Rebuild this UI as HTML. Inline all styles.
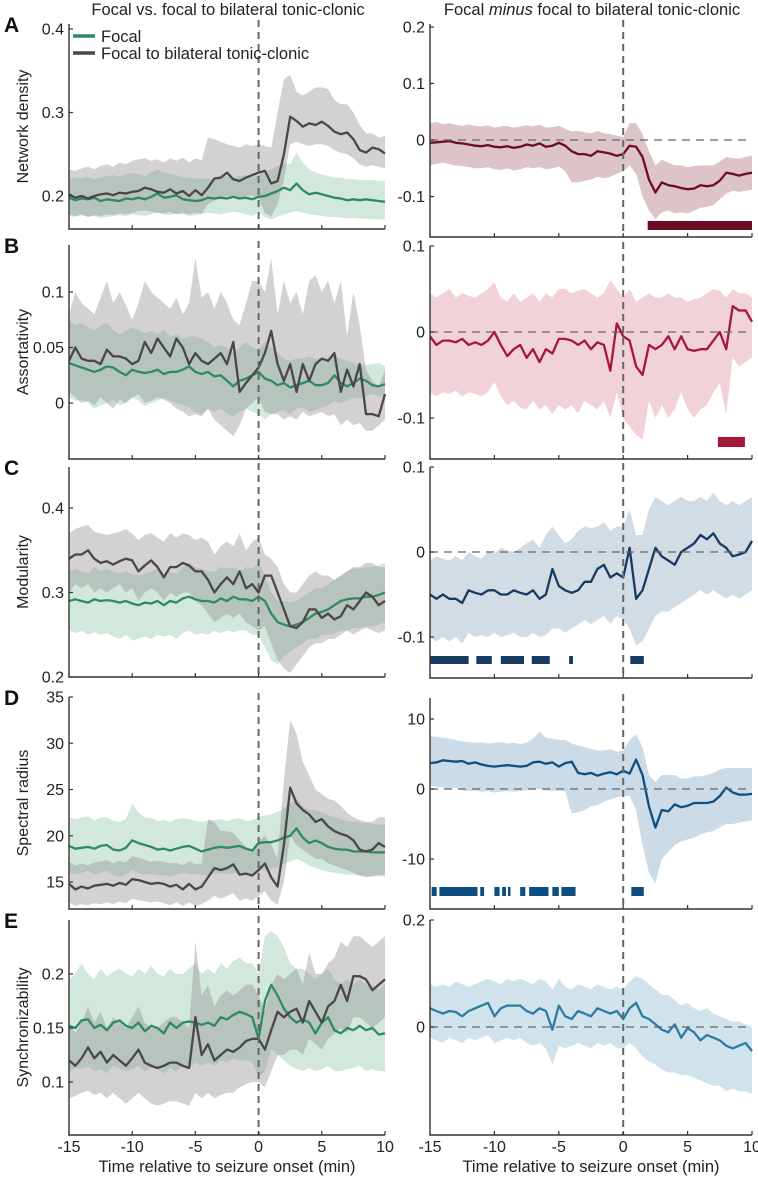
<!DOCTYPE html>
<html><head><meta charset="utf-8"><style>
html,body{margin:0;padding:0;background:#fff}
svg{display:block;font-family:"Liberation Sans",Arial,sans-serif}
</style></head><body>
<svg id="fig" width="758" height="1179" viewBox="0 0 758 1179" xmlns="http://www.w3.org/2000/svg">
<text x="228" y="15" font-size="16.5" text-anchor="middle" fill="#222">Focal vs. focal to bilateral tonic-clonic</text>
<text x="592" y="15" font-size="16.5" text-anchor="middle" fill="#222">Focal <tspan font-style="italic">minus</tspan> focal to bilateral tonic-clonic</text>
<g id="layer"></g>
</svg>
<script>
// ---- shared time axis ----
const times = Array.from({length:51},(_,i)=>-15+i*0.5);
const xTicks = [-15,-10,-5,0,5,10];
const xTickLabels = ["-15","-10","-5","0","5","10"];

// ---- Panel A: network density ----
const aFocal = [0.198,0.195,0.197,0.196,0.198,0.194,0.196,0.195,0.194,0.197,0.196,0.198,0.196,0.199,0.203,0.198,0.199,0.201,0.196,0.195,0.194,0.195,0.198,0.197,0.198,0.197,0.199,0.197,0.198,0.196,0.199,0.2,0.203,0.206,0.21,0.207,0.215,0.207,0.202,0.204,0.202,0.2,0.198,0.197,0.195,0.196,0.195,0.196,0.195,0.194,0.193];
const aFocalLo = [0.176,0.175,0.177,0.175,0.176,0.174,0.175,0.176,0.177,0.176,0.178,0.177,0.176,0.178,0.18,0.178,0.177,0.179,0.178,0.176,0.177,0.178,0.18,0.179,0.178,0.18,0.181,0.18,0.178,0.176,0.18,0.175,0.172,0.175,0.178,0.18,0.182,0.18,0.178,0.177,0.176,0.175,0.175,0.174,0.173,0.174,0.173,0.173,0.172,0.172,0.172];
const aFocalHi = [0.22,0.222,0.221,0.223,0.22,0.222,0.224,0.225,0.223,0.226,0.228,0.226,0.224,0.228,0.232,0.228,0.226,0.225,0.222,0.222,0.221,0.22,0.221,0.22,0.222,0.224,0.222,0.224,0.225,0.222,0.225,0.228,0.232,0.236,0.24,0.238,0.252,0.24,0.232,0.228,0.226,0.224,0.222,0.222,0.22,0.22,0.219,0.219,0.219,0.218,0.218];
const aFbtc = [0.202,0.198,0.2,0.197,0.2,0.202,0.203,0.201,0.204,0.203,0.205,0.206,0.21,0.208,0.205,0.204,0.208,0.203,0.206,0.2,0.207,0.201,0.21,0.221,0.222,0.228,0.22,0.218,0.222,0.225,0.228,0.23,0.215,0.218,0.25,0.295,0.29,0.283,0.287,0.285,0.289,0.284,0.277,0.274,0.276,0.268,0.255,0.252,0.258,0.256,0.251];
const aFbtcLo = [0.178,0.176,0.178,0.175,0.177,0.176,0.178,0.177,0.179,0.178,0.18,0.182,0.183,0.181,0.18,0.179,0.181,0.178,0.18,0.178,0.18,0.179,0.19,0.195,0.198,0.2,0.198,0.197,0.2,0.2,0.198,0.18,0.175,0.19,0.22,0.262,0.265,0.262,0.26,0.262,0.262,0.26,0.255,0.252,0.25,0.245,0.238,0.235,0.237,0.235,0.233];
const aFbtcHi = [0.232,0.23,0.233,0.235,0.232,0.236,0.238,0.235,0.24,0.238,0.242,0.244,0.245,0.242,0.244,0.24,0.245,0.242,0.246,0.24,0.245,0.243,0.27,0.268,0.265,0.262,0.26,0.258,0.262,0.26,0.262,0.26,0.258,0.3,0.34,0.345,0.325,0.32,0.325,0.33,0.33,0.328,0.315,0.31,0.31,0.3,0.285,0.275,0.275,0.27,0.272];
const aDiff = [-0.005,-0.004,-0.003,-0.002,-0.005,-0.006,-0.008,-0.01,-0.011,-0.009,-0.012,-0.013,-0.011,-0.014,-0.012,-0.008,-0.01,-0.006,-0.012,-0.01,-0.005,-0.01,-0.02,-0.025,-0.025,-0.028,-0.02,-0.022,-0.024,-0.028,-0.025,-0.01,-0.012,-0.03,-0.07,-0.093,-0.075,-0.08,-0.082,-0.085,-0.087,-0.086,-0.08,-0.082,-0.08,-0.072,-0.058,-0.06,-0.063,-0.06,-0.058];
const aDiffLo = [-0.045,-0.042,-0.04,-0.043,-0.045,-0.046,-0.048,-0.05,-0.05,-0.048,-0.052,-0.053,-0.05,-0.054,-0.052,-0.048,-0.05,-0.048,-0.052,-0.05,-0.047,-0.055,-0.075,-0.075,-0.072,-0.07,-0.065,-0.068,-0.065,-0.06,-0.055,-0.045,-0.06,-0.1,-0.125,-0.14,-0.128,-0.125,-0.13,-0.128,-0.13,-0.125,-0.12,-0.118,-0.115,-0.105,-0.095,-0.09,-0.092,-0.09,-0.088];
const aDiffHi = [0.03,0.032,0.028,0.03,0.027,0.025,0.028,0.025,0.024,0.026,0.022,0.024,0.025,0.022,0.024,0.026,0.024,0.027,0.022,0.023,0.025,0.02,0.015,0.016,0.014,0.012,0.016,0.012,0.01,0.008,0.005,0.03,0.03,0.01,-0.02,-0.045,-0.035,-0.04,-0.045,-0.045,-0.048,-0.046,-0.045,-0.045,-0.045,-0.038,-0.03,-0.032,-0.033,-0.03,-0.028];
const aSig = [[1.9,10]];

// ---- Panel B: assortativity ----
const bFocal = [0.036,0.034,0.032,0.03,0.028,0.03,0.033,0.032,0.028,0.025,0.03,0.028,0.027,0.028,0.03,0.026,0.028,0.028,0.03,0.033,0.028,0.026,0.028,0.024,0.025,0.02,0.015,0.02,0.022,0.025,0.028,0.022,0.02,0.016,0.018,0.014,0.016,0.018,0.02,0.016,0.016,0.018,0.025,0.018,0.015,0.018,0.022,0.02,0.016,0.015,0.017];
const bFocalLo = [0.005,0.002,0.003,0,-0.005,-0.002,0,0.003,-0.002,0,0.005,0.002,-0.003,0,0.002,0.005,0.002,0,-0.002,-0.004,-0.008,-0.01,-0.005,-0.008,-0.005,-0.01,-0.012,-0.008,-0.005,-0.008,-0.01,-0.015,-0.01,-0.008,-0.006,-0.01,-0.005,-0.004,-0.008,-0.006,-0.004,-0.002,0.002,0,0.002,0.005,0.004,0.006,0.008,0.006,0.005];
const bFocalHi = [0.075,0.07,0.072,0.068,0.065,0.07,0.072,0.066,0.062,0.065,0.068,0.066,0.063,0.065,0.062,0.066,0.06,0.062,0.058,0.06,0.06,0.058,0.055,0.05,0.052,0.05,0.045,0.05,0.055,0.05,0.048,0.055,0.05,0.045,0.04,0.038,0.04,0.04,0.042,0.04,0.04,0.04,0.042,0.04,0.038,0.036,0.035,0.034,0.035,0.036,0.033];
const bFbtc = [0.038,0.05,0.04,0.038,0.038,0.035,0.048,0.042,0.042,0.04,0.035,0.038,0.055,0.045,0.058,0.05,0.042,0.058,0.05,0.035,0.045,0.038,0.035,0.04,0.045,0.035,0.055,0.01,0.018,0.025,0.032,0.045,0.065,0.035,0.02,0.035,0.01,0.035,0.02,0.035,0.04,0.038,0.045,0.01,0.03,0.015,0.035,-0.01,-0.01,-0.012,0.008];
const bFbtcLo = [0.01,0.005,0,0.002,-0.002,0.005,0,-0.005,0.003,0,0.005,0.008,0,0.002,0.005,0.003,0,-0.005,-0.008,-0.012,-0.01,-0.012,-0.005,-0.015,-0.02,-0.025,-0.03,-0.02,-0.005,0,0.005,-0.008,-0.01,-0.01,-0.015,-0.012,-0.015,-0.008,-0.012,-0.01,-0.008,-0.012,-0.01,-0.02,-0.015,-0.02,-0.018,-0.025,-0.025,-0.02,-0.015];
const bFbtcHi = [0.08,0.1,0.09,0.085,0.08,0.095,0.11,0.09,0.1,0.088,0.075,0.09,0.11,0.1,0.095,0.09,0.085,0.095,0.08,0.09,0.13,0.095,0.1,0.085,0.1,0.09,0.075,0.07,0.09,0.11,0.11,0.1,0.13,0.08,0.11,0.09,0.1,0.08,0.11,0.115,0.1,0.11,0.09,0.11,0.06,0.1,0.07,0.03,0.02,0.015,0.03];
const bDiff = [-0.005,-0.015,-0.01,-0.01,-0.012,-0.008,-0.015,-0.012,-0.015,-0.01,0.0,-0.015,-0.028,-0.02,-0.015,-0.03,-0.02,-0.035,-0.02,-0.025,-0.008,-0.008,-0.01,-0.015,-0.01,-0.02,-0.012,-0.015,-0.045,0.01,-0.005,-0.01,-0.04,-0.05,-0.015,-0.02,-0.015,-0.005,-0.02,-0.005,-0.02,-0.022,-0.02,-0.02,-0.01,0.0,-0.02,0.03,0.025,0.025,0.012];
const bDiffLo = [-0.07,-0.075,-0.07,-0.072,-0.068,-0.075,-0.07,-0.072,-0.075,-0.07,-0.058,-0.075,-0.085,-0.08,-0.088,-0.09,-0.08,-0.09,-0.085,-0.095,-0.085,-0.09,-0.085,-0.095,-0.08,-0.085,-0.09,-0.08,-0.1,-0.07,-0.1,-0.11,-0.12,-0.125,-0.08,-0.1,-0.085,-0.1,-0.09,-0.07,-0.09,-0.1,-0.09,-0.085,-0.07,-0.06,-0.095,-0.03,-0.04,-0.035,-0.03];
const bDiffHi = [0.045,0.04,0.045,0.05,0.04,0.045,0.042,0.04,0.045,0.05,0.058,0.04,0.035,0.045,0.035,0.04,0.045,0.035,0.045,0.04,0.05,0.05,0.045,0.048,0.05,0.045,0.04,0.045,0.06,0.05,0.04,0.05,0.035,0.04,0.045,0.04,0.04,0.045,0.04,0.04,0.035,0.038,0.04,0.045,0.05,0.048,0.04,0.05,0.045,0.045,0.04];
const bSig = [[7.35,9.45]];

// ---- Panel C: modularity ----
const cFocal = [0.29,0.292,0.29,0.288,0.292,0.29,0.291,0.29,0.288,0.29,0.287,0.285,0.288,0.287,0.29,0.285,0.29,0.288,0.293,0.295,0.292,0.29,0.29,0.288,0.293,0.29,0.295,0.292,0.292,0.29,0.295,0.29,0.275,0.265,0.262,0.26,0.262,0.265,0.27,0.275,0.277,0.28,0.285,0.29,0.292,0.293,0.293,0.295,0.295,0.297,0.3];
const cFocalLo = [0.255,0.252,0.255,0.25,0.253,0.25,0.252,0.248,0.245,0.25,0.243,0.245,0.248,0.245,0.25,0.248,0.25,0.245,0.252,0.255,0.25,0.252,0.25,0.255,0.252,0.255,0.253,0.255,0.255,0.25,0.25,0.235,0.22,0.215,0.225,0.23,0.235,0.24,0.245,0.245,0.25,0.25,0.252,0.255,0.255,0.258,0.258,0.26,0.26,0.262,0.265];
const cFocalHi = [0.325,0.328,0.325,0.322,0.33,0.325,0.328,0.325,0.322,0.325,0.322,0.32,0.322,0.325,0.328,0.322,0.325,0.322,0.33,0.335,0.33,0.328,0.325,0.325,0.33,0.328,0.33,0.325,0.33,0.328,0.335,0.32,0.3,0.29,0.29,0.288,0.29,0.295,0.3,0.305,0.305,0.31,0.315,0.32,0.325,0.328,0.328,0.33,0.33,0.332,0.335];
const cFbtc = [0.34,0.345,0.345,0.35,0.34,0.335,0.337,0.333,0.337,0.34,0.338,0.325,0.332,0.338,0.33,0.318,0.33,0.33,0.335,0.332,0.325,0.325,0.315,0.3,0.31,0.318,0.31,0.325,0.305,0.31,0.3,0.32,0.32,0.3,0.28,0.26,0.258,0.265,0.28,0.28,0.27,0.275,0.268,0.272,0.285,0.28,0.29,0.3,0.295,0.285,0.29];
const cFbtcLo = [0.3,0.31,0.305,0.31,0.3,0.305,0.3,0.305,0.31,0.3,0.305,0.29,0.3,0.305,0.3,0.29,0.3,0.295,0.3,0.3,0.29,0.285,0.275,0.265,0.27,0.275,0.27,0.275,0.265,0.26,0.255,0.26,0.24,0.22,0.21,0.205,0.215,0.225,0.235,0.24,0.24,0.245,0.245,0.25,0.255,0.25,0.255,0.258,0.255,0.252,0.255];
const cFbtcHi = [0.37,0.375,0.378,0.38,0.372,0.37,0.368,0.37,0.372,0.375,0.37,0.362,0.368,0.37,0.365,0.36,0.37,0.365,0.37,0.368,0.362,0.365,0.36,0.345,0.355,0.36,0.355,0.37,0.35,0.36,0.365,0.345,0.34,0.33,0.31,0.3,0.3,0.31,0.32,0.325,0.32,0.32,0.315,0.32,0.325,0.33,0.33,0.335,0.335,0.33,0.33];
const cDiff = [-0.05,-0.055,-0.05,-0.055,-0.055,-0.06,-0.045,-0.048,-0.05,-0.045,-0.045,-0.05,-0.05,-0.045,-0.048,-0.05,-0.045,-0.055,-0.05,-0.02,-0.04,-0.045,-0.048,-0.045,-0.035,-0.035,-0.02,-0.015,-0.03,-0.025,-0.03,0.005,-0.055,-0.045,-0.02,0.005,-0.005,-0.01,-0.015,0.0,0.005,0.01,0.02,0.015,0.022,0.01,0.005,-0.005,-0.003,0.0,0.013];
const cDiffLo = [-0.1,-0.105,-0.1,-0.105,-0.1,-0.108,-0.095,-0.1,-0.098,-0.1,-0.095,-0.1,-0.098,-0.095,-0.1,-0.1,-0.095,-0.1,-0.098,-0.09,-0.09,-0.095,-0.09,-0.085,-0.08,-0.085,-0.08,-0.075,-0.085,-0.075,-0.08,-0.09,-0.11,-0.105,-0.09,-0.075,-0.07,-0.07,-0.065,-0.06,-0.055,-0.05,-0.045,-0.05,-0.045,-0.05,-0.055,-0.05,-0.055,-0.05,-0.045];
const cDiffHi = [-0.01,-0.005,-0.008,-0.01,-0.005,-0.01,0,-0.005,-0.008,0,-0.002,0.005,0.002,0.0,0.005,0.01,0.015,0.005,0.02,0.03,0.02,0.01,0.015,0.025,0.03,0.028,0.03,0.035,0.025,0.03,0.03,0.05,0.02,0.02,0.05,0.065,0.06,0.055,0.06,0.065,0.06,0.06,0.065,0.06,0.07,0.06,0.055,0.06,0.055,0.06,0.065];
const cSig = [[-15,-12.0],[-11.4,-10.2],[-9.5,-7.7],[-7.1,-5.7],[-4.2,-3.9],[0.55,1.6]];

// ---- Panel D: spectral radius ----
const dFocal = [18.9,18.6,18.7,18.8,18.6,18.9,19,18.5,18.4,18.7,19.5,19.2,19,18.8,18.5,18.6,18.4,18.6,18.8,18.9,18.6,18.3,18.5,18.7,18.8,18.7,18.8,18.9,18.6,18.4,19.2,19.3,19.3,19.5,19.8,20,20.8,19.8,19.2,19.5,19.2,18.8,18.6,18.5,18.5,18.3,18.3,18.3,18.2,18.2,18.2];
const dFocalLo = [16,15.8,16,16.2,15.8,16,16.2,15.8,15.5,15.8,16.3,16,15.8,15.9,15.7,15.8,15.6,15.8,16,15.8,15.9,15.8,15.7,15.9,16,15.8,16,15.9,15.8,15.6,16.2,16.3,16.5,16.6,17,17.2,17.5,17.2,16.8,16.5,16.3,16.1,16,15.9,15.8,15.8,15.7,15.7,15.6,15.6,15.6];
const dFocalHi = [22,21.8,22,22.1,21.7,22,22,21.6,21.5,21.8,23.5,22.5,22,21.9,21.6,21.7,21.5,21.8,21.9,21.8,21.6,21.5,21.6,21.7,21.8,21.6,21.8,21.9,21.6,21.7,22,22.2,22.3,22.6,23,23.5,24,23.2,22.8,22.8,22.5,22.2,22,21.8,21.6,21.5,21.4,21.4,21.3,21.2,21.2];
const dFbtc = [14.8,14.2,14.5,14.3,14.6,14.7,14.8,14.6,14.9,14.7,15.3,15.2,15,14.8,14.9,14.8,14.5,14.7,14.2,14.8,14.2,14.5,15.5,16.5,16.3,16.5,16.9,15.8,15.9,15.7,16.3,17,15.5,14.5,19,25.2,23.5,22.8,22.3,21.5,21.8,21,20.5,20.2,20,19.5,18.5,18.3,18.5,19.2,18.8];
const dFbtcLo = [12.8,12.4,12.6,12.5,12.7,12.6,12.8,12.6,12.9,12.7,13.2,13,12.9,12.8,12.9,12.7,12.5,12.8,12.4,12.8,12.4,12.6,13,13.5,13.2,13.5,13.8,13,13.2,13,13.5,14,13,12.5,15,20,19,18.5,18,17.5,17.5,17,16.8,16.5,16.3,16,15.7,15.5,15.6,15.8,15.7];
const dFbtcHi = [17.2,16.8,17,16.8,17.1,17.2,17.4,17,17.3,17.1,17.8,17.6,17.4,17.2,17.3,17.2,17,17.1,16.8,17.2,16.9,17,21.8,21.5,20.5,20.5,20.3,19.5,18.8,18.5,19.5,20,19,17.5,26,32.5,31,28,26.5,25,24.5,24,23.8,23.2,22.5,22,21.7,21.5,21.5,22,22];
const dDiff = [3.7,3.8,4.1,4,3.9,4,3.6,3.8,3.5,3.3,3.2,3.3,3.4,3.3,3.2,3.3,3.8,3.9,3.6,3.8,3.2,3.7,3.9,2.3,2.1,2.3,1.9,2.2,2.4,2.1,2.6,2.2,4.2,2,-2.5,-5.5,-3,-3.2,-2.2,-2.6,-2.4,-2,-2,-2,-1.8,-1,0.2,-0.5,-0.8,-0.8,-0.7];
const dDiffLo = [0.5,0.3,0.2,0,0.2,-0.2,-0.3,-0.2,-0.4,-0.3,-0.5,-0.4,-0.3,-0.4,-0.3,-0.2,0,0,-0.2,-0.3,-0.2,-0.3,-3.5,-3.3,-3,-2.5,-2.3,-1.8,-1.5,-1.2,-1,-1,-3,-8,-12,-13.5,-10,-9,-8,-7.5,-7.2,-7,-6.5,-6.2,-6,-5.5,-5,-5,-4.8,-4.6,-4.5];
const dDiffHi = [7.5,7.5,7.3,7.2,7,6.8,6.7,6.6,6.7,6.5,6.6,6.7,6.5,6.6,6.4,6.6,7.2,8.2,7.3,7.2,7,7,6.5,6.2,6,5.7,5.5,5.5,5.7,5.3,5.5,7,7.8,6,2,1,2,2,2,1.5,1.5,1.8,1.8,2,2.3,2.8,3,3,3,3,3];
const dSig = [[-14.87,-14.48],[-14.27,-11.31],[-11.1,-10.8],[-10.0,-9.6],[-9.4,-9.1],[-8.95,-8.75],[-8.0,-7.6],[-7.3,-5.8],[-5.5,-5.0],[-4.8,-3.7],[0.63,1.6]];

// ---- Panel E: synchronizability ----
const eFocal = [0.152,0.15,0.157,0.158,0.15,0.153,0.148,0.155,0.157,0.152,0.15,0.155,0.147,0.152,0.15,0.145,0.155,0.15,0.155,0.156,0.155,0.153,0.155,0.152,0.16,0.158,0.162,0.165,0.163,0.16,0.14,0.175,0.19,0.18,0.168,0.16,0.155,0.158,0.155,0.145,0.155,0.16,0.148,0.145,0.15,0.148,0.152,0.148,0.15,0.144,0.145];
const eFocalLo = [0.11,0.113,0.112,0.115,0.11,0.112,0.108,0.115,0.113,0.11,0.112,0.115,0.11,0.113,0.112,0.108,0.113,0.11,0.115,0.113,0.118,0.115,0.118,0.115,0.12,0.118,0.122,0.12,0.12,0.118,0.105,0.11,0.13,0.125,0.12,0.115,0.112,0.11,0.113,0.11,0.112,0.115,0.11,0.11,0.112,0.113,0.115,0.11,0.112,0.11,0.11];
const eFocalHi = [0.195,0.2,0.21,0.2,0.195,0.205,0.198,0.202,0.205,0.2,0.198,0.205,0.2,0.208,0.2,0.198,0.205,0.2,0.2,0.205,0.21,0.2,0.205,0.2,0.21,0.205,0.212,0.215,0.21,0.21,0.2,0.235,0.24,0.235,0.225,0.21,0.205,0.205,0.2,0.195,0.2,0.205,0.195,0.19,0.195,0.19,0.195,0.19,0.19,0.185,0.19];
const eFbtc = [0.12,0.115,0.122,0.132,0.122,0.128,0.118,0.125,0.12,0.115,0.122,0.13,0.118,0.115,0.113,0.115,0.118,0.118,0.115,0.113,0.16,0.125,0.135,0.12,0.125,0.13,0.128,0.132,0.138,0.14,0.14,0.13,0.148,0.165,0.16,0.165,0.168,0.155,0.175,0.165,0.155,0.17,0.175,0.19,0.175,0.198,0.198,0.195,0.185,0.19,0.195];
const eFbtcLo = [0.085,0.087,0.09,0.092,0.088,0.09,0.085,0.09,0.085,0.08,0.085,0.09,0.085,0.08,0.078,0.08,0.082,0.082,0.08,0.078,0.09,0.085,0.09,0.085,0.088,0.09,0.09,0.095,0.098,0.1,0.1,0.095,0.11,0.125,0.125,0.13,0.13,0.125,0.14,0.135,0.13,0.14,0.145,0.15,0.145,0.16,0.16,0.155,0.15,0.155,0.16];
const eFbtcHi = [0.155,0.145,0.155,0.17,0.155,0.165,0.15,0.16,0.155,0.15,0.16,0.17,0.155,0.15,0.15,0.155,0.16,0.16,0.155,0.15,0.23,0.18,0.19,0.17,0.18,0.185,0.18,0.185,0.19,0.19,0.18,0.165,0.19,0.2,0.195,0.2,0.205,0.19,0.22,0.2,0.2,0.21,0.215,0.23,0.225,0.235,0.235,0.23,0.225,0.23,0.235];
const eDiff = [0.035,0.03,0.025,0.03,0.028,0.02,0.03,0.035,0.04,0.045,0.02,0.035,0.04,0.04,0.04,0.03,0.025,0.035,0.03,-0.005,0.04,0.02,0.015,0.03,0.025,0.02,0.035,0.03,0.025,0.03,0.015,0.035,0.045,0.02,0.015,0.005,-0.005,-0.01,0.005,-0.02,-0.002,-0.01,-0.025,-0.015,-0.02,-0.025,-0.035,-0.04,-0.035,-0.03,-0.045];
const eDiffLo = [-0.02,-0.025,-0.03,-0.02,-0.025,-0.03,-0.02,-0.025,-0.02,-0.015,-0.03,-0.025,-0.02,-0.025,-0.02,-0.03,-0.035,-0.03,-0.04,-0.07,-0.035,-0.04,-0.035,-0.03,-0.035,-0.04,-0.03,-0.035,-0.03,-0.04,-0.04,-0.03,-0.04,-0.055,-0.065,-0.07,-0.08,-0.085,-0.085,-0.09,-0.09,-0.095,-0.1,-0.105,-0.11,-0.11,-0.12,-0.115,-0.12,-0.12,-0.125];
const eDiffHi = [0.08,0.075,0.08,0.075,0.085,0.08,0.075,0.08,0.085,0.09,0.085,0.08,0.09,0.085,0.09,0.085,0.08,0.09,0.085,0.07,0.09,0.075,0.07,0.08,0.075,0.07,0.08,0.075,0.07,0.075,0.07,0.085,0.095,0.09,0.08,0.07,0.06,0.06,0.05,0.04,0.045,0.035,0.03,0.035,0.025,0.02,0.015,0.01,0.01,0.005,0.0];

const yTicksL = [[0.2,0.3,0.4],[0,0.05,0.1],[0.2,0.3,0.4],[15,20,25,30,35],[0.1,0.15,0.2]];
const yTickLabelsL = [["0.2","0.3","0.4"],["0","0.05","0.1"],["0.2","0.3","0.4"],["15","20","25","30","35"],["0.1","0.15","0.2"]];
const yTicksR = [[-0.1,0,0.1,0.2],[-0.1,0,0.1],[-0.1,0,0.1],[-10,0,10],[0,0.2]];
const yTickLabelsR = [["-0.1","0","0.1","0.2"],["-0.1","0","0.1"],["-0.1","0","0.1"],["-10","0","10"],["0","0.2"]];
const rowLabels = ["A","B","C","D","E"];
const yTitles = ["Network density","Assortativity","Modularity","Spectral radius","Synchronizability"];

// layout (pixel geometry, not data)
const LX=[69,385], RX=[430,752];
const Lgeo=[{t:24,b:229,c:[0.2,196,0.4,29]},{t:245,b:459,c:[0,403,0.1,292]},{t:467,b:677,c:[0.2,677,0.4,508]},{t:697,b:909,c:[15,882,35,697]},{t:920,b:1135,c:[0.1,1082,0.2,974]}];
const Rgeo=[{t:24,b:237,c:[0,140,0.2,27]},{t:246,b:459,c:[0,332,0.1,246]},{t:467,b:678,c:[0,552,0.1,467]},{t:698,b:909,c:[0,789,10,719]},{t:920,b:1135,c:[0,1027,0.2,920]}];
const sigRows=[[221,230],[437,447],[656,664],[887,896],null];
const leftSeries=[[aFocal,aFocalLo,aFocalHi,aFbtc,aFbtcLo,aFbtcHi],[bFocal,bFocalLo,bFocalHi,bFbtc,bFbtcLo,bFbtcHi],[cFocal,cFocalLo,cFocalHi,cFbtc,cFbtcLo,cFbtcHi],[dFocal,dFocalLo,dFocalHi,dFbtc,dFbtcLo,dFbtcHi],[eFocal,eFocalLo,eFocalHi,eFbtc,eFbtcLo,eFbtcHi]];
const rightSeries=[[aDiff,aDiffLo,aDiffHi],[bDiff,bDiffLo,bDiffHi],[cDiff,cDiffLo,cDiffHi],[dDiff,dDiffLo,dDiffHi],[eDiff,eDiffLo,eDiffHi]];
const sigs=[aSig,bSig,cSig,dSig,null];
const rColors=[{l:"#6d0c24",f:"#dcc4c9"},{l:"#a6173a",f:"#f1d2d8"},{l:"#173a63",f:"#d2dce5"},{l:"#0d4f82",f:"#cbdbe8"},{l:"#2a7d9f",f:"#d0e3ec"}];

const NS="http://www.w3.org/2000/svg";
const layer=document.getElementById('layer');
function mk(tag,attrs,parent){const e=document.createElementNS(NS,tag);for(const k in attrs)e.setAttribute(k,attrs[k]);(parent||layer).appendChild(e);return e;}
function xs(X){return t=>X[0]+(t+15)/25*(X[1]-X[0]);}
function ys(g){const [v1,y1,v2,y2]=g.c;return v=>y1+(v-v1)*(y2-y1)/(v2-v1);}
function linePath(x,y,arr){return arr.map((v,i)=>(i?'L':'M')+x(times[i]).toFixed(1)+','+y(v).toFixed(1)).join('');}
function bandPath(x,y,lo,hi){let d=hi.map((v,i)=>(i?'L':'M')+x(times[i]).toFixed(1)+','+y(v).toFixed(1)).join('');for(let i=lo.length-1;i>=0;i--)d+='L'+x(times[i]).toFixed(1)+','+y(lo[i]).toFixed(1);return d+'Z';}

function axes(g,X,geo,ticks,labels,side,showX){
  const x=xs(X), y=ys(geo);
  mk('path',{d:`M${X[0]},${geo.t}L${X[0]},${geo.b}L${X[1]},${geo.b}`,fill:'none',stroke:'#333','stroke-width':1.4},g);
  ticks.forEach((v,i)=>{const yy=y(v);
    const tk=mk('line',{x1:X[0],x2:X[0]+4,y1:yy,y2:yy,stroke:'#333','stroke-width':1.2},g);
    
    
    const tx=mk('text',{x:X[0]-5,y:yy+5.5,'font-size':16,'text-anchor':'end',fill:'#222'},g);
    tx.textContent=labels[i];
    
    
  });
  xTicks.forEach((t,i)=>{const xx=x(t);
    const tk=mk('line',{x1:xx,x2:xx,y1:geo.b,y2:geo.b-4,stroke:'#333','stroke-width':1.2},g);
    
    
    if(showX){const tx=mk('text',{x:xx,y:1152,'font-size':16,'text-anchor':'middle',fill:'#222'},g);
      tx.textContent=xTickLabels[i];
      
      }
  });
}

for(let r=0;r<5;r++){
  const gl=mk('g',{});
  
  
  const geo=Lgeo[r], x=xs(LX), y=ys(geo);
  const [fm,flo,fhi,gm,glo,ghi]=leftSeries[r];
  const cp=mk('clipPath',{id:'cl'+r},gl); mk('rect',{x:LX[0],y:geo.t,width:LX[1]-LX[0]+1,height:geo.b-geo.t},cp);
  const inner=mk('g',{'clip-path':'url(#cl'+r+')'},gl);
  const b1=mk('path',{d:bandPath(x,y,flo,fhi),fill:'#d2e8dd'},inner);
  
  
  const b2=mk('path',{d:bandPath(x,y,glo,ghi),fill:'#8c8789','fill-opacity':0.38},inner);
  
  
  const vl=mk('line',{x1:x(0),x2:x(0),y1:geo.t-4,y2:geo.b,stroke:'#666','stroke-width':2,'stroke-dasharray':'7,5'},gl);
  
  
  const l1=mk('path',{d:linePath(x,y,fm),fill:'none',stroke:'#2f8a62','stroke-width':2.3,'stroke-linejoin':'round'},inner);
  
  
  const l2=mk('path',{d:linePath(x,y,gm),fill:'none',stroke:'#4b4648','stroke-width':2.3,'stroke-linejoin':'round'},inner);
  
  
  axes(gl,LX,geo,yTicksL[r],yTickLabelsL[r],'L',r===4);
  const lt=mk('text',{x:4,y:geo.t+8,'font-size':21,'font-weight':'bold',fill:'#111'},gl);
  lt.textContent=rowLabels[r];
  
  
  const cy=(geo.t+geo.b)/2;
  const yt=mk('text',{x:0,y:0,transform:`translate(28,${cy}) rotate(-90)`,'font-size':16,'text-anchor':'middle',fill:'#222'},gl);
  yt.textContent=yTitles[r];
  
  

  const gr=mk('g',{});
  
  
  const rg=Rgeo[r], rx=xs(RX), ry=ys(rg);
  const [dm,dlo,dhi]=rightSeries[r];
  const cp2=mk('clipPath',{id:'cr'+r},gr); mk('rect',{x:RX[0],y:rg.t,width:RX[1]-RX[0]+1,height:rg.b-rg.t},cp2);
  const inner2=mk('g',{'clip-path':'url(#cr'+r+')'},gr);
  const rb=mk('path',{d:bandPath(rx,ry,dlo,dhi),fill:rColors[r].f},inner2);
  
  
  const zl=mk('line',{x1:RX[0],x2:RX[1],y1:ry(0),y2:ry(0),stroke:'#666','stroke-width':1.3,'stroke-dasharray':'8,6'},gr);
  
  
  const vr=mk('line',{x1:rx(0),x2:rx(0),y1:rg.t-4,y2:rg.b,stroke:'#666','stroke-width':2,'stroke-dasharray':'7,5'},gr);
  
  
  const rl=mk('path',{d:linePath(rx,ry,dm),fill:'none',stroke:rColors[r].l,'stroke-width':2.3,'stroke-linejoin':'round'},inner2);
  
  
  if(sigs[r]){sigs[r].forEach(s=>{
    const sb=mk('rect',{x:rx(s[0]),y:sigRows[r][0],width:rx(s[1])-rx(s[0]),height:sigRows[r][1]-sigRows[r][0],fill:rColors[r].l},gr);
    
    
  });}
  axes(gr,RX,rg,yTicksR[r],yTickLabelsR[r],'R',r===4);
}
[[227],[591]].forEach((p,i)=>{
  const t=mk('text',{x:p[0],y:1172,'font-size':16.5,'text-anchor':'middle',fill:'#222'});
  t.textContent='Time relative to seizure onset (min)';
  
  
});
const lg=mk('g',{});


const e1=mk('line',{x1:73,x2:95,y1:36,y2:36,stroke:'#2f8a62','stroke-width':3.5},lg);


const t1=mk('text',{x:101,y:42,'font-size':16.5,fill:'#222'},lg);t1.textContent='Focal';


const e2=mk('line',{x1:73,x2:95,y1:53,y2:53,stroke:'#4b4648','stroke-width':3.5},lg);


const t2=mk('text',{x:101,y:59,'font-size':16.5,fill:'#222'},lg);t2.textContent='Focal to bilateral tonic-clonic';


</script>
</body></html>
